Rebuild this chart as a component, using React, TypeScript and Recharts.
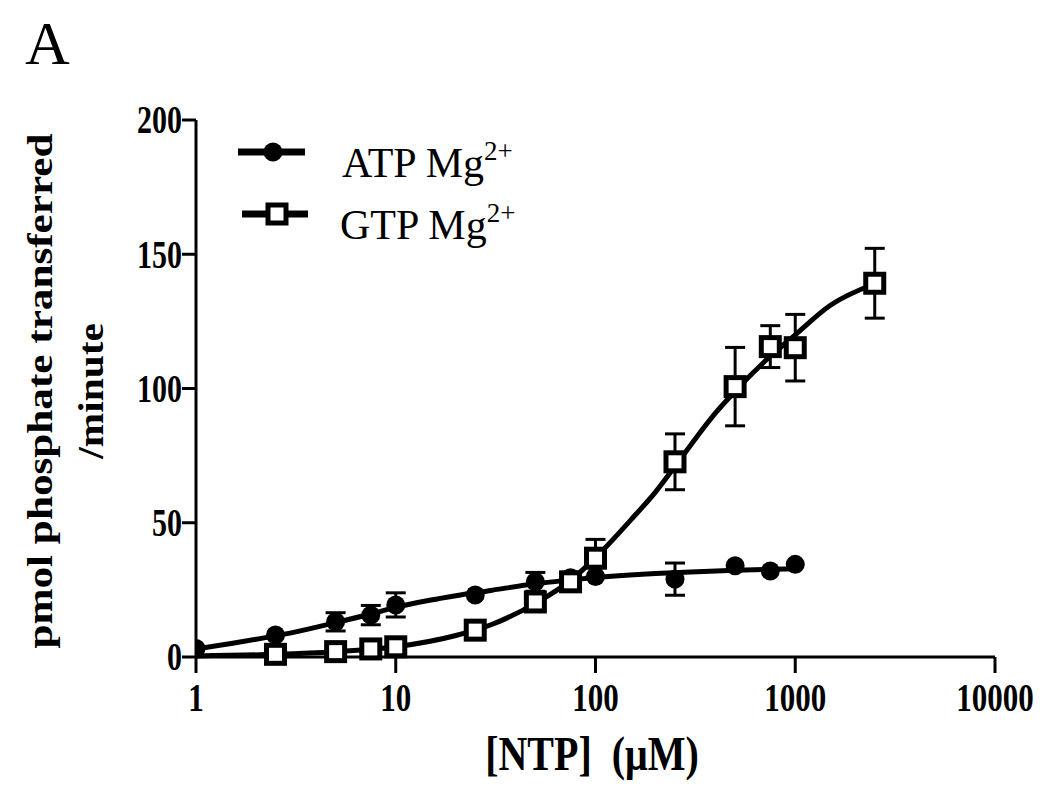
import React from "react";
import {
  ComposedChart,
  XAxis,
  YAxis,
  Line,
  Scatter,
  ErrorBar,
  Legend,
} from "recharts";

// ---- data ----
const xTicks = [1, 10, 100, 1000, 10000];
const yTicks = [0, 50, 100, 150, 200];

const atpX = [1, 2.5, 5, 7.5, 10, 25, 50, 75, 100, 250, 500, 750, 1000];
const atpY = [3.2, 8.2, 13.1, 15.6, 19.4, 23.1, 28.0, 29.5, 30.0, 29.0, 34.0, 32.0, 34.5];
const atpErr = [null, null, 3.4, 3.6, 4.5, null, 3.5, null, null, 6, null, null, null];

const gtpX = [2.5, 5, 7.5, 10, 25, 50, 75, 100, 250, 500, 750, 1000, 2500];
const gtpY = [1.0, 2.0, 3.0, 3.8, 10.0, 20.5, 28.0, 36.8, 72.7, 100.7, 115.6, 115.2, 139.2];
const gtpErr = [null, null, null, null, null, 3, 3, 7, 10.4, 14.6, 7.8, 12.4, 13];

const atpFitX = [1, 1.5, 2, 3, 5, 7.5, 10, 15, 20, 30, 50, 75, 100, 200, 300, 500, 1000];
const atpFitY = [3.0, 5.0, 6.6, 9.0, 12.8, 16.0, 18.5, 21.2, 22.8, 24.8, 27.3, 28.7, 29.6, 31.1, 31.7, 32.3, 32.9];

const gtpFitX = [1, 2.5, 5, 10, 20, 30, 50, 75, 100, 150, 200, 250, 300, 400, 500, 750, 1000, 1500, 2500];
const gtpFitY = [0.4, 1.0, 2.0, 3.8, 8.0, 12.0, 20.0, 28.5, 37.0, 51, 61.5, 71, 79, 91, 99, 112, 120, 131, 139];

const seriesNames = ["ATP Mg", "GTP Mg"];

const atpPts = atpX.map((x, i) => ({ x, y: atpY[i], err: atpErr[i] }));
const gtpPts = gtpX.map((x, i) => ({ x, y: gtpY[i], err: gtpErr[i] }));
const atpFit = atpFitX.map((x, i) => ({ x, y: atpFitY[i] }));
const gtpFit = gtpFitX.map((x, i) => ({ x, y: gtpFitY[i] }));

const SERIF = "'Liberation Serif', 'Times New Roman', serif";

const DotShape = (p: any) => <circle cx={p.cx} cy={p.cy} r={9.5} fill="#000" />;
const SquareShape = (p: any) => (
  <rect x={p.cx - 9} y={p.cy - 9} width={18} height={18} fill="#fff" stroke="#000" strokeWidth={5} />
);

const XTick = (p: any) => (
  <text
    transform={`translate(${p.x},${p.y}) scale(1,1.28)`}
    textAnchor="middle"
    dy={28.2}
    fontFamily={SERIF}
    fontWeight="bold"
    fontSize={31}
    fill="#000"
  >
    {p.payload.value}
  </text>
);

const YTick = (p: any) => (
  <text
    transform={`translate(${p.x},${p.y}) scale(1,1.3)`}
    textAnchor="end"
    dy={10.2}
    fontFamily={SERIF}
    fontWeight="bold"
    fontSize={30}
    fill="#000"
  >
    {p.payload.value}
  </text>
);

const XTitle = () => (
  <text
    transform="translate(584,762) scale(1,1.2)"
    textAnchor="middle"
    fontFamily={SERIF}
    fontWeight="bold"
    fontSize={40}
    fill="#000"
  >
    {"[NTP]\u00a0\u00a0(\u03bcM)"}
  </text>
);

const YTitle = () => (
  <g fontFamily={SERIF} fontWeight="bold" fill="#000" fontSize={36}>
    <text transform="translate(44,383) rotate(-90) scale(1.2,1)" textAnchor="middle">
      pmol phosphate transferred
    </text>
    <text transform="translate(95,383) rotate(-90) scale(1.15,1)" textAnchor="middle">
      /minute
    </text>
  </g>
);

const renderLegend = () => (
  <svg width={600} height={260} style={{ display: "block" }}>
    <g>
      <line x1={230} y1={144} x2={297} y2={144} stroke="#000" strokeWidth={7} />
      <circle cx={265} cy={144} r={9.5} fill="#000" />
      <text x={334} y={169} fontFamily={SERIF} fontSize={42} fill="#000">
        {seriesNames[0]}
        <tspan fontSize={27} dy={-17}>2+</tspan>
      </text>
    </g>
    <g>
      <line x1={234} y1={206} x2={300} y2={206} stroke="#000" strokeWidth={7} />
      <rect x={260} y={197} width={18} height={18} fill="#fff" stroke="#000" strokeWidth={5} />
      <text x={332} y={231} fontFamily={SERIF} fontSize={42} fill="#000">
        {seriesNames[1]}
        <tspan fontSize={27} dy={-17}>2+</tspan>
      </text>
    </g>
  </svg>
);

export default function App() {
  return (
    <div style={{ position: "relative", width: 1040, height: 781 }}>
      <ComposedChart
        width={1040}
        height={781}
        margin={{ top: 112, right: 53, bottom: 72, left: 128 }}
      >
        <XAxis
          dataKey="x"
          type="number"
          scale="log"
          domain={[1, 10000]}
          ticks={xTicks}
          allowDataOverflow
          height={60}
          tickSize={16}
          axisLine={{ stroke: "#000", strokeWidth: 3 }}
          tickLine={{ stroke: "#000", strokeWidth: 3 }}
          tick={<XTick />}
          label={<XTitle />}
        />
        <YAxis
          dataKey="y"
          type="number"
          domain={[0, 200]}
          ticks={yTicks}
          width={60}
          tickSize={14}
          tickMargin={0}
          axisLine={{ stroke: "#000", strokeWidth: 3 }}
          tickLine={{ stroke: "#000", strokeWidth: 3 }}
          tick={<YTick />}
          label={<YTitle />}
        />
        <Legend
          layout="horizontal"
          verticalAlign="middle"
          align="center"
          content={renderLegend}
          wrapperStyle={{ position: "absolute", left: 0, top: 0, width: 600, height: 260 }}
        />
        <Scatter name="ATP" data={atpPts} dataKey="y" shape={DotShape} isAnimationActive={false}>
          <ErrorBar dataKey="err" direction="y" width={10} stroke="#000" strokeWidth={3} />
        </Scatter>
        <Scatter name="GTP" data={gtpPts} dataKey="y" shape={SquareShape} isAnimationActive={false}>
          <ErrorBar dataKey="err" direction="y" width={10} stroke="#000" strokeWidth={3} />
        </Scatter>
        <Line
          data={atpFit}
          dataKey="y"
          type="monotone"
          stroke="#000"
          strokeWidth={5}
          dot={false}
          activeDot={false}
          isAnimationActive={false}
        />
        <Line
          data={gtpFit}
          dataKey="y"
          type="monotone"
          stroke="#000"
          strokeWidth={5}
          dot={false}
          activeDot={false}
          isAnimationActive={false}
        />
      </ComposedChart>
      <svg
        width={120}
        height={90}
        style={{ position: "absolute", left: 0, top: 0, pointerEvents: "none" }}
      >
        <text x={17} y={56} fontFamily={SERIF} fontSize={62} fill="#000">
          A
        </text>
      </svg>
    </div>
  );
}
